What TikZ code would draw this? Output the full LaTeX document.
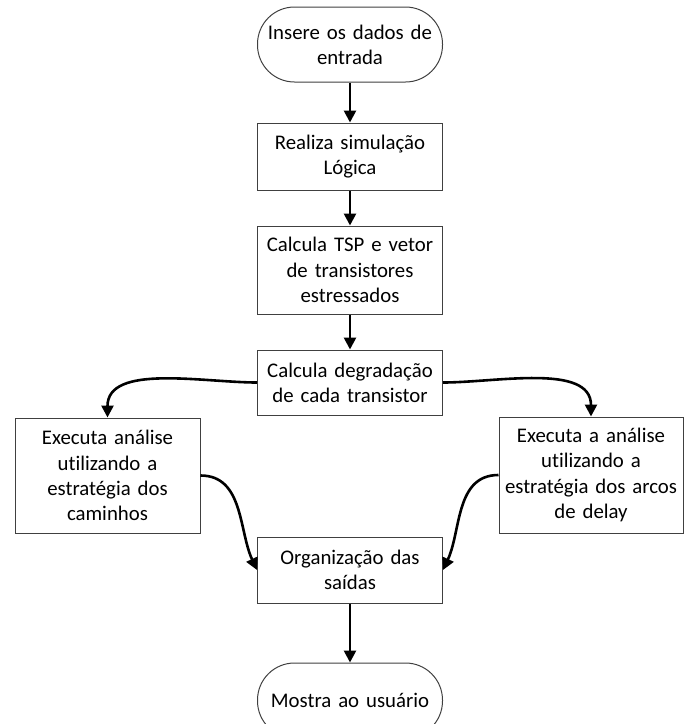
\documentclass[tikz,border=0pt]{standalone}
\usepackage{fontspec}
\setmainfont[Ligatures=NoCommon]{Carlito}
\usetikzlibrary{arrows.meta}
\begin{document}
\begin{tikzpicture}[x=1pt,y=-1pt,
  box/.style={draw=black!75, line width=1pt, fill=white, align=center, inner sep=0pt,
    font=\fontsize{20.8}{25.2}\selectfont, minimum width=185pt, text width=185pt},
  term/.style={box, rounded corners=37pt, minimum height=75pt},
  flow/.style={line width=2.6pt, -{Triangle[width=12pt,length=12pt]}}]
\useasboundingbox (0,0) rectangle (686,724);
\node[term] (start) at (350,44.5) {Insere os dados de\\entrada};
\node[box, minimum height=67pt] (sim) at (350,156.5) {Realiza simulação\\Lógica};
\node[box, minimum height=88pt] (tsp) at (350,270) {Calcula TSP e vetor\\de transistores\\estressados};
\node[box, minimum height=65pt] (deg) at (350,382.5) {Calcula degradação\\de cada transistor};
\node[box, minimum height=115pt] (cam) at (107.5,475.5) {Executa análise\\utilizando a\\estratégia dos\\caminhos};
\node[box, minimum height=116pt, minimum width=184pt, text width=184pt] (arc) at (591,475) {Executa a análise\\utilizando a\\estratégia dos arcos\\de delay};
\node[box, minimum height=66pt] (org) at (350,570) {Organização das\\saídas};
\node[term] (end) at (350,700.5) {Mostra ao usuário};
\draw[flow] (start) -- (sim);
\draw[flow] (sim) -- (tsp);
\draw[flow] (tsp) -- (deg);
\draw[flow] (deg.west) to[out=180, in=90, looseness=0.9] (cam.north);
\draw[flow] (deg.east) to[out=0, in=90, looseness=0.9] (arc.north);
\draw[flow] (cam.east) to[out=0, in=115] (org.west);
\draw[flow] (arc.west) to[out=180, in=65] (org.east);
\draw[flow] (org) -- (end);
\end{tikzpicture}
\end{document}
